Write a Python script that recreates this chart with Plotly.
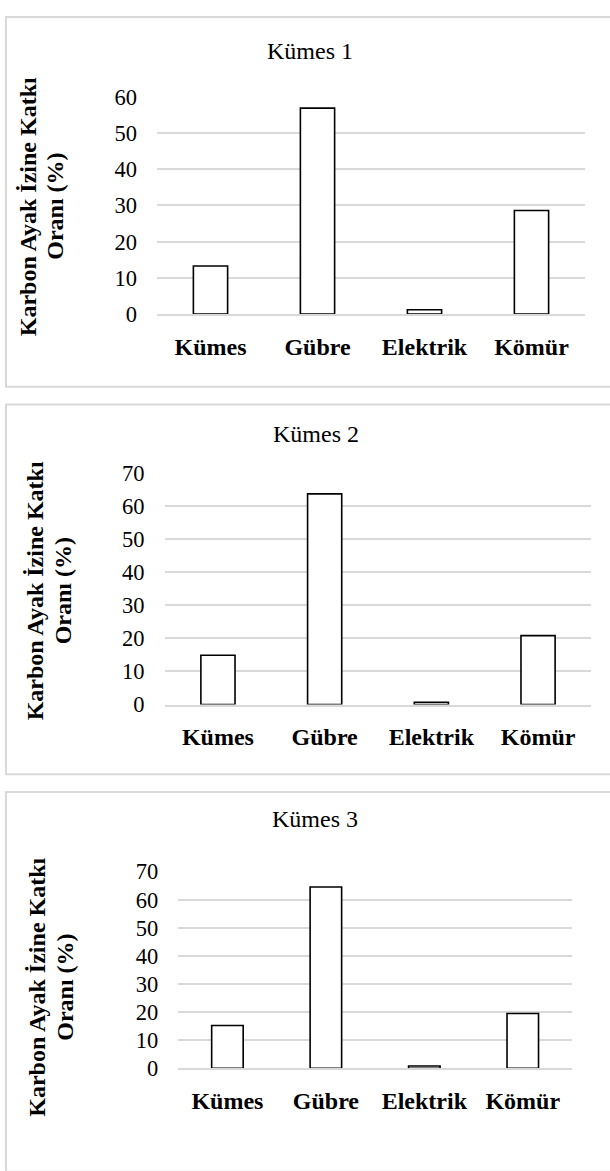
import plotly.graph_objects as go

# Contribution of each source to the carbon footprint, per poultry house
categories = ["Kümes", "Gübre", "Elektrik", "Kömür"]
kumes1 = [13.3, 56.9, 1.2, 28.6]
kumes2 = [14.9, 63.6, 0.7, 20.8]
kumes3 = [15.2, 64.5, 0.8, 19.5]
titles = ["Kümes 1", "Kümes 2", "Kümes 3"]
y_title_lines = ["Karbon Ayak İzine Katkı", "Oranı (%)"]
y_ranges = [[0, 60], [0, 70], [0, 70]]
y_ticks = [list(range(0, 61, 10)), list(range(0, 71, 10)), list(range(0, 71, 10))]

W, H = 610, 1171
SERIF = "Liberation Serif, Times New Roman, serif"


def px_x(v):
    return v / W


def px_y(v):
    return 1 - v / H


# Pixel layout of each panel: plot area (left, right, top, bottom),
# title centre, x of the two y-title lines and their common centre y,
# and the outer frame (top, bottom)
panels = [
    dict(plot=(157, 585, 86.7, 308.7), title=(310, 40), ytitle=((27.5, 55), 199), frame=(5, 383)),
    dict(plot=(164.6, 591.4, 470.7, 707.7), title=(316, 431), ytitle=((35, 63), 592), frame=(401, 779)),
    dict(plot=(178.2, 572, 878.3, 1079.3), title=(315, 825), ytitle=((37, 65), 997), frame=(797, 1185)),
]
series = [kumes1, kumes2, kumes3]

fig = go.Figure()
shapes = []
annotations = []

for i, (p, vals) in enumerate(zip(panels, series)):
    n = "" if i == 0 else str(i + 1)
    xa, ya = "x" + n, "y" + n
    fig.add_trace(go.Bar(
        x=categories, y=vals, xaxis=xa, yaxis=ya,
        marker=dict(color="white", line=dict(color="black", width=1.6)),
        showlegend=False, hoverinfo="x+y",
    ))
    l, r, t, b = p["plot"]
    fig.layout["xaxis" + n] = dict(
        domain=[px_x(l), px_x(r)], anchor=ya,
        showgrid=False, showline=True, linecolor="#d9d9d9", linewidth=1.5,
        ticks="", ticklabelstandoff=10,
        tickfont=dict(family=SERIF, size=24, color="black", weight="bold"),
        fixedrange=True,
    )
    fig.layout["yaxis" + n] = dict(
        domain=[px_y(b), px_y(t)], anchor=xa, range=y_ranges[i],
        tickvals=y_ticks[i], showgrid=True, gridcolor="#d9d9d9", gridwidth=1.5,
        zeroline=False, showline=False, ticks="", ticklabelstandoff=19,
        tickfont=dict(family=SERIF, size=22.5, color="black"),
        fixedrange=True,
    )
    tx, ty = p["title"]
    annotations.append(dict(
        text=titles[i], x=px_x(tx), y=px_y(ty), xref="paper", yref="paper",
        showarrow=False, xanchor="center", yanchor="middle",
        font=dict(family=SERIF, size=24, color="black"),
    ))
    (lx1, lx2), yy = p["ytitle"]
    for line, lx in zip(y_title_lines, (lx1, lx2)):
        annotations.append(dict(
            text=line, x=px_x(lx), y=px_y(yy), xref="paper", yref="paper",
            showarrow=False, xanchor="center", yanchor="middle", textangle=-90,
            font=dict(family=SERIF, size=24, color="black", weight="bold"),
        ))
    ft, fb = p["frame"]
    shapes.append(dict(
        type="rect", xref="paper", yref="paper",
        x0=px_x(6), x1=px_x(640), y0=px_y(fb), y1=px_y(ft),
        line=dict(color="#d9d9d9", width=2), fillcolor="rgba(0,0,0,0)",
        layer="below",
    ))

fig.update_layout(
    width=W, height=H,
    margin=dict(l=0, r=0, t=0, b=0, pad=0),
    paper_bgcolor="white", plot_bgcolor="white",
    bargap=0.68,
    shapes=shapes, annotations=annotations,
)

fig.write_html("out.html")
